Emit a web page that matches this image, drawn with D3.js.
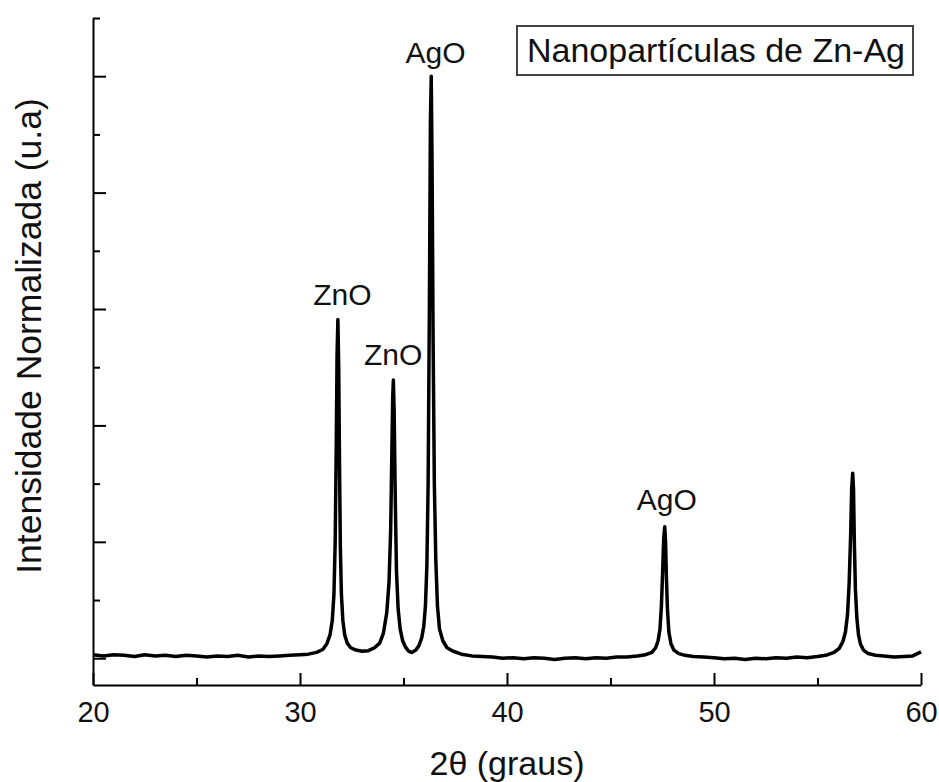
<!DOCTYPE html>
<html>
<head>
<meta charset="utf-8">
<script src="https://cdn.jsdelivr.net/npm/d3@7"></script>
<style>
  body { margin: 0; background: #fff; }
  text { font-family: 'Liberation Sans', Arial, sans-serif; fill: #111; }
</style>
</head>
<body>
<div id="viz"></div>
<script>
// XRD pattern, values (2theta in degrees, intensity normalised to the AgO peak)
const twoTheta = [
  20.0, 20.5, 21.0, 21.5, 22.0, 22.5, 23.0, 23.5, 24.0, 24.5, 25.0, 25.5, 26.0, 26.5, 27.0, 27.5, 28.0, 28.5, 29.0, 29.5, 30.0, 30.4, 30.8,
  31.1, 31.3, 31.45, 31.56, 31.64, 31.7, 31.75, 31.79, 31.83, 31.87, 31.91, 31.95, 32.0, 32.07, 32.16, 32.28, 32.45, 32.7, 33.0, 33.3,
  33.6, 33.85, 34.03, 34.19, 34.3, 34.38, 34.44, 34.48, 34.51, 34.55, 34.6, 34.66, 34.74, 34.84, 34.96, 35.1, 35.25,
  35.4, 35.6, 35.75, 35.88, 35.98, 36.06, 36.13, 36.19, 36.25, 36.3, 36.34, 36.38, 36.43, 36.49, 36.56, 36.64, 36.74, 36.9, 37.1, 37.4, 37.8, 38.3,
  38.8, 39.3, 39.8, 40.3, 40.8, 41.3, 41.8, 42.3, 42.8, 43.3, 43.8, 44.3, 44.8, 45.3, 45.8, 46.3,
  46.7, 47.0, 47.18, 47.3, 47.39, 47.46, 47.52, 47.57, 47.62, 47.66, 47.7, 47.75, 47.82, 47.92, 48.06, 48.3, 48.6,
  49.0, 49.5, 50.0, 50.5, 51.0, 51.5, 52.0, 52.5, 53.0, 53.5, 54.0, 54.5, 55.0, 55.4,
  55.8, 56.05, 56.22, 56.35, 56.45, 56.53, 56.6, 56.65, 56.7, 56.74, 56.78, 56.83, 56.9, 56.98, 57.08, 57.22, 57.45, 57.8,
  58.2, 58.7, 59.2, 59.6, 60.0,
];
const intensity = [
  0.006, 0.004, 0.006, 0.005, 0.003, 0.006, 0.004, 0.005, 0.003, 0.005, 0.004, 0.002, 0.004, 0.003, 0.005, 0.002, 0.004, 0.003, 0.004, 0.005, 0.006, 0.007, 0.01,
  0.015, 0.025, 0.04, 0.065, 0.11, 0.2, 0.36, 0.52, 0.582, 0.5, 0.33, 0.19, 0.11, 0.065, 0.04, 0.026, 0.018, 0.014, 0.012, 0.013,
  0.018, 0.026, 0.043, 0.078, 0.13, 0.22, 0.36, 0.45, 0.478, 0.42, 0.28, 0.15, 0.085, 0.05, 0.03, 0.019, 0.012,
  0.01, 0.014, 0.022, 0.035, 0.055, 0.09, 0.16, 0.3, 0.6, 0.92, 1.0, 0.85, 0.55, 0.3, 0.17, 0.09, 0.05, 0.03, 0.018, 0.012, 0.007, 0.004,
  0.003, 0.002, 0.0, 0.001, -0.001, 0.001, 0.0, -0.002, 0.0, 0.001, -0.001, 0.001, 0.0, 0.002, 0.002, 0.004,
  0.006, 0.01, 0.018, 0.03, 0.05, 0.09, 0.15, 0.205, 0.226, 0.2, 0.14, 0.085, 0.045, 0.025, 0.014, 0.008, 0.005,
  0.003, 0.002, 0.001, -0.001, 0.0, -0.002, 0.0, -0.001, 0.001, 0.0, 0.002, 0.001, 0.003, 0.005,
  0.01, 0.017, 0.028, 0.045, 0.075, 0.13, 0.21, 0.29, 0.318, 0.29, 0.2, 0.12, 0.07, 0.04, 0.024, 0.014, 0.008, 0.005,
  0.004, 0.002, 0.003, 0.004, 0.011,
];

const peakNames = ['ZnO', 'ZnO', 'AgO', 'AgO'];
const peakLabelX = [32.05, 34.5, 36.55, 47.72];
const peakLabelY = [0.607, 0.503, 1.022, 0.255];

const xMajorTicks = [20, 30, 40, 50, 60];
const xMinorTicks = [25, 35, 45, 55];
const yMajorTicks = [0, 0.2, 0.4, 0.6, 0.8, 1.0];
const yMinorTicks = [0.1, 0.3, 0.5, 0.7, 0.9, 1.1];

const width = 939;
const height = 782;

const svg = d3.select('#viz')
  .append('svg')
  .attr('width', width)
  .attr('height', height);

const x = d3.scaleLinear().domain([20, 60]).range([93, 921]);
const y = d3.scaleLinear().domain([-0.046, 1.1]).range([685, 18]);

const styleAxis = (g) => {
  g.select('.domain').attr('stroke', '#000').attr('stroke-width', 2);
  g.selectAll('.tick line').attr('stroke', '#000').attr('stroke-width', 2);
  g.selectAll('.tick text')
    .attr('fill', '#111')
    .style('font-size', '29px')
    .style('font-family', "'Liberation Sans', Arial, sans-serif");
};

// x axis, ticks pointing in
svg.append('g')
  .attr('transform', 'translate(0,685)')
  .call(d3.axisBottom(x).tickValues(xMinorTicks).tickSize(-7).tickFormat(''))
  .call(g => g.select('.domain').remove())
  .call(styleAxis);

svg.append('g')
  .attr('transform', 'translate(0,685)')
  .call(d3.axisBottom(x).tickValues(xMajorTicks).tickSize(-12).tickSizeOuter(0).tickPadding(16).tickFormat(d3.format('d')))
  .call(styleAxis);

// y axis, no labels
svg.append('g')
  .attr('transform', 'translate(93,0)')
  .call(d3.axisLeft(y).tickValues(yMinorTicks).tickSize(-7).tickFormat(''))
  .call(g => g.select('.domain').remove())
  .call(styleAxis);

svg.append('g')
  .attr('transform', 'translate(93,0)')
  .call(d3.axisLeft(y).tickValues(yMajorTicks).tickSize(-13).tickSizeOuter(0).tickFormat(''))
  .call(styleAxis);

const data = twoTheta.map((t, i) => ({ t, v: intensity[i] }));

const line = d3.line()
  .x(d => x(d.t))
  .y(d => y(d.v));

svg.append('path')
  .datum(data)
  .attr('d', line)
  .attr('fill', 'none')
  .attr('stroke', '#000')
  .attr('stroke-width', 3.5)
  .attr('stroke-linejoin', 'round');

svg.selectAll('.peak-label')
  .data(peakNames)
  .enter()
  .append('text')
  .attr('class', 'peak-label')
  .attr('x', (d, i) => x(peakLabelX[i]))
  .attr('y', (d, i) => y(peakLabelY[i]))
  .attr('text-anchor', 'middle')
  .style('font-size', '30px')
  .text(d => d);

// legend box
svg.append('rect')
  .attr('x', 517)
  .attr('y', 26)
  .attr('width', 396)
  .attr('height', 49)
  .attr('fill', '#fff')
  .attr('stroke', '#444')
  .attr('stroke-width', 2);

svg.append('text')
  .attr('x', 716)
  .attr('y', 62)
  .attr('text-anchor', 'middle')
  .style('font-size', '34px')
  .text('Nanopartículas de Zn-Ag');

svg.append('text')
  .attr('x', 507)
  .attr('y', 775)
  .attr('text-anchor', 'middle')
  .style('font-size', '34px')
  .text('2θ (graus)');

svg.append('text')
  .attr('transform', 'translate(41,336) rotate(-90)')
  .attr('text-anchor', 'middle')
  .style('font-size', '35.5px')
  .text('Intensidade Normalizada (u.a)');
</script>
</body>
</html>
